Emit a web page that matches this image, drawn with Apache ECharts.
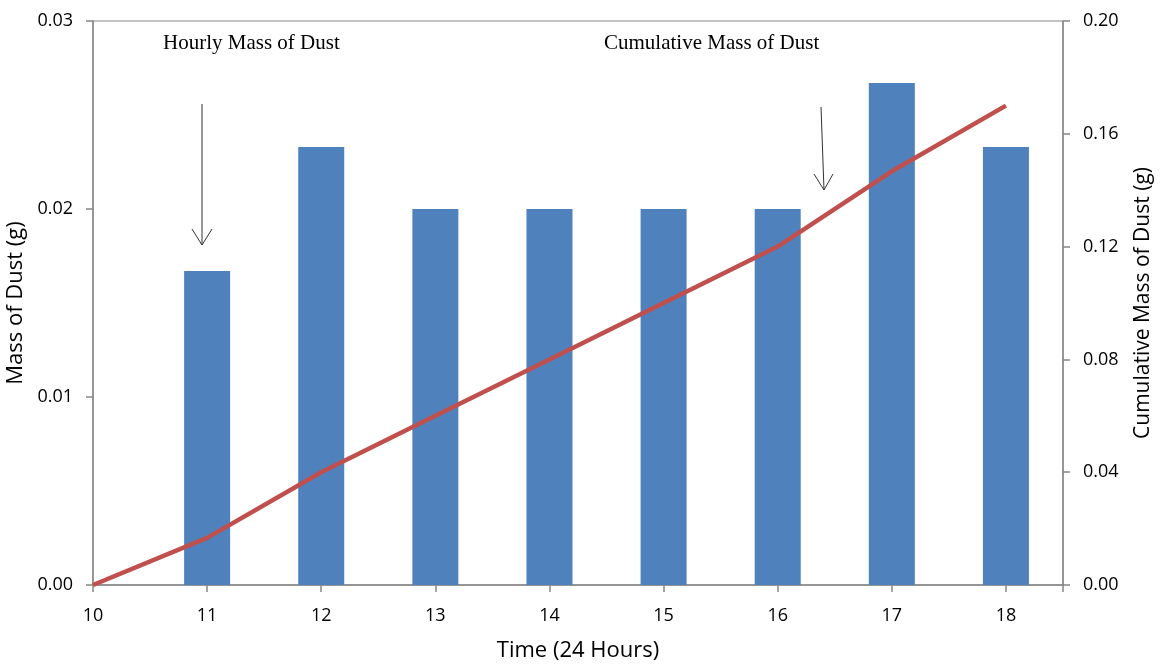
<!DOCTYPE html>
<html>
<head>
<meta charset="utf-8">
<script src="https://cdn.jsdelivr.net/npm/echarts@6/dist/echarts.min.js"></script>
<style>
  html, body { margin: 0; padding: 0; background: #fff; }
  #chart { width: 1164px; height: 664px; }
</style>
</head>
<body>
<div id="chart"></div>
<script>
// hours of the day
const hours = [10, 11, 12, 13, 14, 15, 16, 17, 18];
// hourly mass of dust (g), no bar at 10
const hourlyHours = [11, 12, 13, 14, 15, 16, 17, 18];
const hourlyMass = [0.0167, 0.0233, 0.02, 0.02, 0.02, 0.02, 0.0267, 0.0233];
// cumulative mass of dust (g)
const cumulativeMass = [0, 0.0167, 0.04, 0.06, 0.08, 0.1, 0.12, 0.1467, 0.17];

const labelFont = '"Open Sans", "Liberation Sans", sans-serif';
const axisGray = '#878787';

const chart = echarts.init(document.getElementById('chart'));

const option = {
  backgroundColor: '#fff',
  animation: false,
  grid: {
    left: 93,
    right: 101,
    top: 21,
    bottom: 79,
    outerBoundsMode: 'none',
    containLabel: false,
    show: true,
    borderColor: axisGray,
    borderWidth: 1
  },
  xAxis: {
    type: 'value',
    min: 10,
    max: 18.5,
    interval: 1,
    name: 'Time (24 Hours)',
    nameLocation: 'middle',
    nameGap: 55,
    nameTextStyle: { color: '#000', fontSize: 22, fontFamily: labelFont },
    axisLine: { show: true, lineStyle: { color: axisGray, width: 1.5 } },
    axisTick: { show: true, length: 7, lineStyle: { color: axisGray, width: 1.5 } },
    splitLine: { show: false },
    axisLabel: {
      color: '#000',
      fontSize: 18,
      fontFamily: labelFont,
      margin: 22,
      formatter: v => (Number.isInteger(v) ? String(v) : '')
    }
  },
  yAxis: [
    {
      type: 'value',
      min: 0,
      max: 0.03,
      interval: 0.01,
      name: 'Mass of Dust (g)',
      nameLocation: 'middle',
      nameGap: 60,
      nameRotate: 90,
      nameTextStyle: { color: '#000', fontSize: 22, fontFamily: labelFont },
      axisLine: { show: true, lineStyle: { color: axisGray, width: 1.5 } },
      axisTick: { show: true, length: 7, lineStyle: { color: axisGray, width: 1.5 } },
      splitLine: { show: false },
      axisLabel: {
        color: '#000',
        fontSize: 18,
        fontFamily: labelFont,
        margin: 20,
        formatter: v => v.toFixed(2)
      }
    },
    {
      type: 'value',
      position: 'right',
      min: 0,
      max: 0.2,
      interval: 0.04,
      name: 'Cumulative Mass of Dust (g)',
      nameLocation: 'middle',
      nameGap: 70,
      nameRotate: 90,
      nameTextStyle: { color: '#000', fontSize: 21, fontFamily: labelFont },
      axisLine: { show: true, lineStyle: { color: axisGray, width: 1.5 } },
      axisTick: { show: true, length: 7, lineStyle: { color: axisGray, width: 1.5 } },
      splitLine: { show: false },
      axisLabel: {
        color: '#000',
        fontSize: 18,
        fontFamily: labelFont,
        margin: 20,
        formatter: v => v.toFixed(2)
      }
    }
  ],
  series: [
    {
      name: 'Hourly Mass of Dust',
      type: 'bar',
      yAxisIndex: 0,
      barWidth: 46,
      itemStyle: { color: '#4F81BD' },
      data: hourlyHours.map((h, i) => [h, hourlyMass[i]])
    },
    {
      name: 'Cumulative Mass of Dust',
      type: 'line',
      yAxisIndex: 1,
      symbol: 'none',
      lineStyle: { color: '#C0504D', width: 4.5 },
      data: hours.map((h, i) => [h, cumulativeMass[i]])
    }
  ],
  graphic: [
    {
      type: 'text',
      left: 163,
      top: 33,
      style: { text: 'Hourly Mass of Dust', fill: '#000', font: '21px "Liberation Serif", "DejaVu Serif", serif' }
    },
    {
      type: 'text',
      left: 604,
      top: 33,
      style: { text: 'Cumulative Mass of Dust', fill: '#000', font: '21px "Liberation Serif", "DejaVu Serif", serif' }
    },
    // arrow for hourly
    {
      type: 'polyline',
      shape: { points: [[202, 104], [202, 245]] },
      style: { stroke: '#333', lineWidth: 1, fill: null }
    },
    {
      type: 'polyline',
      shape: { points: [[192, 229], [202, 245], [212, 229]] },
      style: { stroke: '#333', lineWidth: 1, fill: null }
    },
    // arrow for cumulative
    {
      type: 'polyline',
      shape: { points: [[821, 107], [824, 190]] },
      style: { stroke: '#333', lineWidth: 1, fill: null }
    },
    {
      type: 'polyline',
      shape: { points: [[814, 174], [824, 190], [833, 174]] },
      style: { stroke: '#333', lineWidth: 1, fill: null }
    }
  ]
};

chart.setOption(option);
</script>
</body>
</html>
